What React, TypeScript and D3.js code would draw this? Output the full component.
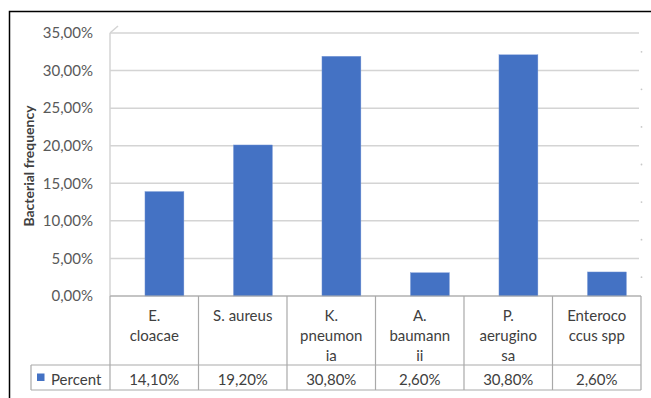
import React from "react";
import * as d3 from "d3";

const categories = ["E. cloacae", "S. aureus", "K. pneumonia", "A. baumannii", "P. aeruginosa", "Enterococcus spp"];
const categoryLines = [["E.", "cloacae"], ["S. aureus"], ["K.", "pneumon", "ia"], ["A.", "baumann", "ii"], ["P.", "aerugino", "sa"], ["Enteroco", "ccus spp"]];
const barValues = [13.9, 20.1, 31.9, 3.1, 32.1, 3.2];
const tableLabels = ["14,10%", "19,20%", "30,80%", "2,60%", "30,80%", "2,60%"];
const yTicks = [0, 5, 10, 15, 20, 25, 30, 35];
const seriesName = "Percent";
const yTitle = "Bacterial frequency";

const W = 651, H = 398;
const plotLeft = 110, plotRight = 641, plotTop = 33, plotBottom = 296;
const rowDiv = 365, tableBottom = 390, legendLeft = 31;
const font = "Lato, 'Open Sans', sans-serif";
const gridColor = "#d4d4d4";
const tableColor = "#a9a9a9";
const textColor = "#404040";
const barColor = "#4472C4";

export default function App() {
  const y = d3.scaleLinear().domain([0, 35]).range([plotBottom, plotTop]);
  const x = d3.scaleBand<string>().domain(categories).range([plotLeft, plotRight]).padding(0);
  const bw = x.bandwidth();
  const fmt = (v: number) => v.toFixed(2).replace(".", ",") + "%";
  const minor = yTicks.slice(0, -1).map((t) => t + 2.5);

  return (
    <svg width={W} height={H} style={{ position: "absolute", left: 0, top: 0, background: "#fff" }}>
      <rect x={9.5} y={11.5} width={800} height={500} fill="none" stroke="#000" strokeWidth={1.5} />
      {yTicks.map((t) => (
        <line key={t} x1={plotLeft} x2={t === 0 ? plotRight : plotRight - 2} y1={y(t)} y2={y(t)} stroke={gridColor} strokeWidth={1.5} />
      ))}
      <line x1={plotLeft} x2={plotLeft} y1={plotTop} y2={plotBottom} stroke={gridColor} strokeWidth={1.5} />
      <line x1={plotLeft} x2={plotLeft + 8} y1={plotTop} y2={plotTop - 7} stroke={gridColor} strokeWidth={1.5} />
      {minor.map((t) => (
        <circle key={t} cx={plotRight + 0.5} cy={y(t)} r={0.9} fill="#c8c8c8" />
      ))}
      {yTicks.map((t) => (
        <text key={t} x={93} y={y(t)} dy="0.35em" textAnchor="end" fontFamily={font} fontSize={15} fill="#595959">
          {fmt(t)}
        </text>
      ))}
      {categories.map((c, i) => (
        <rect key={c} x={(x(c) as number) + bw * 0.395} width={bw * 0.44} y={y(barValues[i])} height={y(0) - y(barValues[i])} fill={barColor} stroke="#7a9ad6" strokeWidth={0.4} />
      ))}
      <text transform={`translate(34,166) rotate(-90)`} textAnchor="middle" fontFamily={font} fontSize={14} fontWeight="bold" fill={textColor}>
        {yTitle}
      </text>
      <g stroke={tableColor} strokeWidth={1.2} fill="none">
        <line x1={plotLeft} x2={plotRight} y1={plotBottom} y2={plotBottom} />
        <line x1={legendLeft} x2={plotRight} y1={rowDiv} y2={rowDiv} />
        <line x1={legendLeft} x2={plotRight} y1={tableBottom} y2={tableBottom} />
        <line x1={legendLeft} x2={legendLeft} y1={rowDiv} y2={tableBottom} />
        {categories.map((c) => (
          <line key={c} x1={x(c) as number} x2={x(c) as number} y1={plotBottom} y2={tableBottom} />
        ))}
        <line x1={plotRight} x2={plotRight} y1={plotBottom} y2={tableBottom} />
      </g>
      {categories.map((c, i) => (
        <g key={c}>
          {categoryLines[i].map((ln, j) => (
            <text key={j} x={(x(c) as number) + bw / 2} y={316 + j * 20} dy="0.35em" textAnchor="middle" fontFamily={font} fontSize={15} fill={textColor}>
              {ln}
            </text>
          ))}
          <text x={(x(c) as number) + bw / 2} y={380} dy="0.35em" textAnchor="middle" fontFamily={font} fontSize={15} fill={textColor}>
            {tableLabels[i]}
          </text>
        </g>
      ))}
      <rect x={37} y={373.5} width={7.5} height={7.5} fill={barColor} />
      <text x={51} y={380} dy="0.35em" fontFamily={font} fontSize={15} fill={textColor}>
        {seriesName}
      </text>
    </svg>
  );
}
